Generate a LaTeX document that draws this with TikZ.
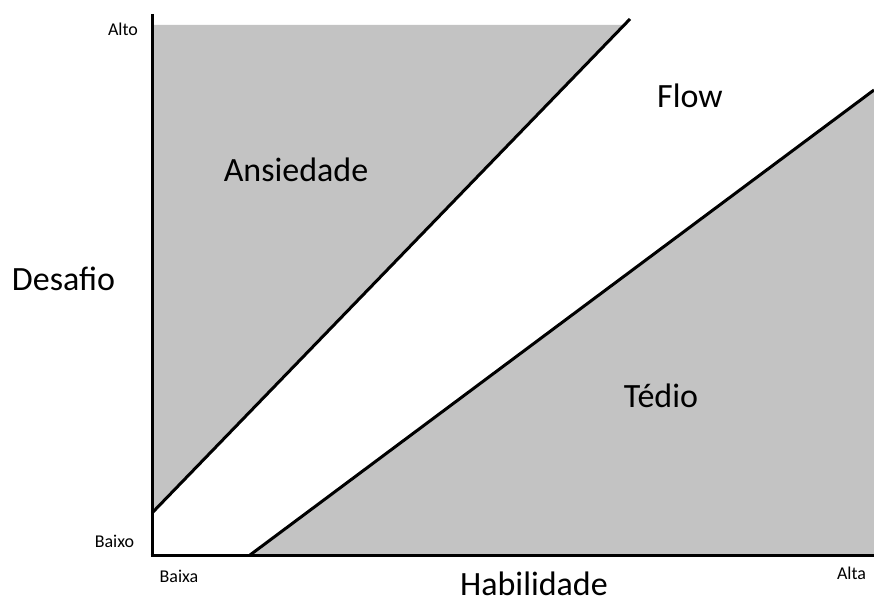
\documentclass[tikz,border=0pt]{standalone}
\usepackage{fontspec}
\setmainfont{Carlito}
\definecolor{zonegray}{RGB}{195,195,195}
\tikzset{
  axisline/.style={line width=3pt,black},
  diagline/.style={line width=3pt,black},
  zone/.style={fill=zonegray,draw=none},
  small/.style={font=\fontsize{18}{20}\selectfont,inner sep=0pt,anchor=base},
  big/.style={font=\fontsize{34}{38}\selectfont,inner sep=0pt,anchor=base}
}
\begin{document}
\begin{tikzpicture}[x=1pt,y=-1pt]
\useasboundingbox (0,0) rectangle (874,599);
% gray zones
\fill[zone] (152,25) -- (624,25) -- (152,513) -- cycle;
\fill[zone] (250,555) -- (874,90) -- (874,555) -- cycle;
% diagonal lines
\draw[diagline] (152,513) -- (630,19);
\draw[diagline] (250,555) -- (874,90);
% axes
\draw[axisline] (152,14) -- (152,556.5);
\draw[axisline] (150.5,555) -- (874,555);
% labels
\node[small] (alto) at (123,36) {Alto};
\node[small] (baixo) at (114.5,547) {Baixo};
\node[small] (baixa) at (179,582) {Baixa};
\node[small] (alta) at (851.5,579) {Alta};
\node[big] (desafio) at (63.5,290) {Desafio};
\node[big] (habil) at (534,595.5) {Habilidade};
\node[big] (ans) at (296,181) {Ansiedade};
\node[big] (flow) at (690,107) {Flow};
\node[big] (tedio) at (661,407) {Tédio};
\end{tikzpicture}
\end{document}
